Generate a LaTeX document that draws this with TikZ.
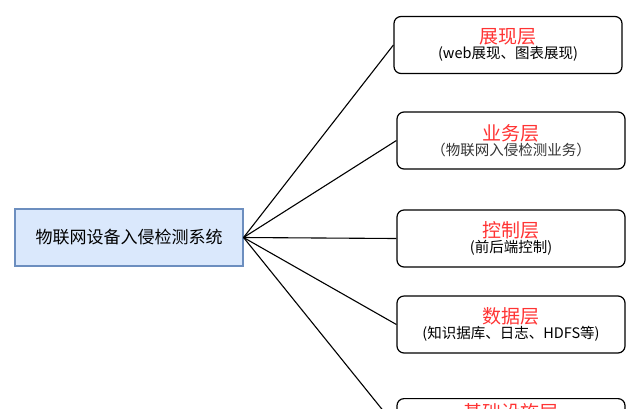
\documentclass[tikz,border=0pt]{standalone}
\usepackage{fontspec}
\newfontfamily\cjk{Noto Sans CJK SC}
\definecolor{layerred}{HTML}{FF3333}
\definecolor{rootfill}{HTML}{DAE8FC}
\definecolor{rootline}{HTML}{6C8EBF}
\begin{document}
\begin{tikzpicture}[x=1pt,y=-1pt,line width=1.1pt,
   layer/.style={draw,rounded corners=7pt,minimum width=228pt,minimum height=57pt,align=center,font=\cjk,line width=1.2pt},
   root/.style={draw=rootline,fill=rootfill,minimum width=228pt,minimum height=57pt,font=\cjk\fontsize{17}{20}\selectfont}]

\newcommand{\ttl}[1]{{\color{layerred}\fontsize{19}{25}\selectfont #1}}
\newcommand{\sub}[1]{{\fontsize{14.5}{17}\selectfont #1}}

\clip (0,0) rectangle (644,408);
\useasboundingbox (0,0) rectangle (644,408);

\node[root] (sys) at (129,237.5) {物联网设备入侵检测系统};
\node[layer] (show) at (508,45) {\ttl{展现层}\\\sub{(web展现、图表展现)}};
\node[layer] (biz) at (511,140.5) {\ttl{业务层}\\\sub{\color{black!80}（物联网入侵检测业务）}};
\node[layer] (ctl) at (511,238.5) {\ttl{控制层}\\\sub{(前后端控制)}};
\node[layer] (data) at (511,324.5) {\ttl{数据层}\\\sub{(知识据库、日志、HDFS等)}};
\node[layer,minimum height=57pt,anchor=north] (base) at (511,398) {};
\node[anchor=north,font=\cjk,inner sep=0pt] (basettl) at ([yshift=-5pt]base.north) {\ttl{基础设施层}};

\path[draw] (sys.east) -- (show.west);
\path[draw] (sys.east) -- (biz.west);
\path[draw] (sys.east) -- (ctl.west);
\path[draw] (sys.east) -- (data.west);
\path[draw] (sys.east) -- (base.west);

\end{tikzpicture}
\end{document}
